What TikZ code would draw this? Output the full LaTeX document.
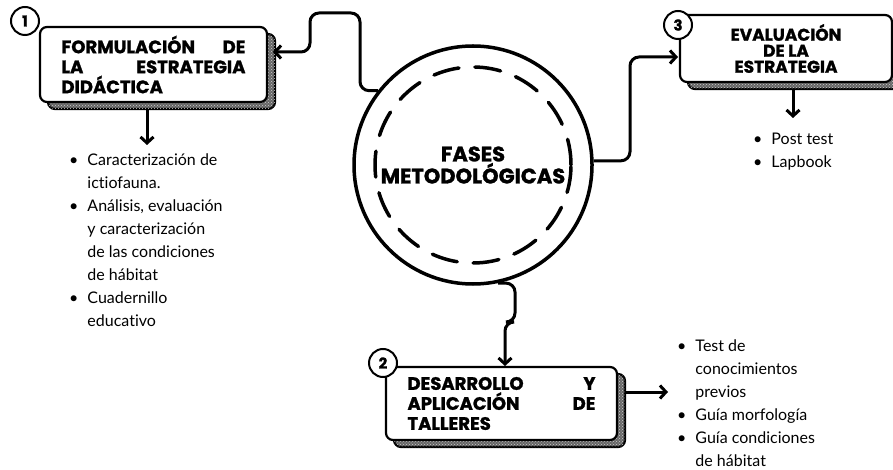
\documentclass[tikz,border=0pt]{standalone}
\usepackage{fontspec}
\setmainfont{Lato}[Ligatures=NoCommon]
\newfontfamily\headfont{Poppins}[BoldFeatures={FakeBold=1.3}]
\usetikzlibrary{arrows.meta,shadows,patterns}

\begin{document}
\begin{tikzpicture}[x=1pt,y=-1pt,
  box/.style={draw,line width=2.2pt,rounded corners=7pt,fill=white,inner sep=0pt,align=left,
    general shadow={shadow xshift=8pt,shadow yshift=-7pt,fill=black!60,draw=black,line width=2.2pt,
      postaction={pattern=crosshatch dots,pattern color=white!80!black}},
    font=\headfont\bfseries\fontsize{18}{20}\selectfont},
  numbox/.style={circle,draw,line width=2pt,fill=white,minimum size=28pt,inner sep=0pt,
    font=\headfont\bfseries\fontsize{15}{15}\selectfont},
  conn/.style={line width=3pt,rounded corners=9pt,-{Straight Barb[length=6pt,width=13pt]}},
  items/.style={anchor=north west,inner sep=0pt,font=\fontsize{16}{23}\selectfont}]
  \useasboundingbox (0,0) rectangle (893,470);
  % phases
  \node[box,minimum width=227pt,minimum height=75pt,text width=184pt] (b1) at (153.5,64.5) {FORMULACIÓN\hfill DE\\LA\hfill ESTRATEGIA\\DIDÁCTICA};
  \node[box,minimum width=231pt,minimum height=73pt,text width=188pt] (b2) at (501.5,403.5) {DESARROLLO\hfill Y\\APLICACIÓN\hfill DE\\TALLERES};
  \node[box,minimum width=212pt,minimum height=67pt,align=center,font=\headfont\bfseries\fontsize{17}{16}\selectfont] (b3) at (786,48.5) {EVALUACIÓN\\DE LA\\ESTRATEGIA};
  \node[numbox] (n1) at (25,21) {1};
  \node[numbox] (n2) at (383,363) {2};
  \node[numbox] (n3) at (678,25) {3};
  % centre
  \node[circle,draw,line width=3.5pt,minimum size=238pt,inner sep=0pt,align=center,font=\headfont\bfseries\fontsize{21}{22}\selectfont] (fm) at (473,165) {FASES\\METODOLÓGICAS};
  \draw[line width=3.5pt,line cap=round,dash pattern=on 26pt off 16pt] (fm.center) circle[radius=98pt];
  % ends of the connectors
  \coordinate (e1) at (273,52);
  \coordinate (e3) at (678,57);
  \coordinate (e2) at (505,366);
  \coordinate (s1) at (147,109);
  \coordinate (t1) at (147,145);
  \coordinate (s2) at (625,392);
  \coordinate (t2) at (668,392);
  \coordinate (s3) at (793,90);
  \coordinate (t3) at (793,118);
  \draw[conn] (fm.142) -| (360,13) -| (310,52) -- (e1);
  \draw[conn] (fm.2) -| (630,57) -- (e3);
  \draw[conn] (fm.-78) -| (515,322) -| (e2);
  \draw[conn] (s1) -- (t1);
  \draw[conn] (s2) -- (t2);
  \draw[conn] (s3) -- (t3);
  % lists
  \node[items] (l1) at (69,149) {\begin{tabular}{@{}l@{\hspace{9pt}}l@{}}•&Caracterización de\\&ictiofauna.\\•&Análisis, evaluación\\&y caracterización\\&de las condiciones\\&de hábitat\\•&Cuadernillo\\&educativo\end{tabular}};
  \node[items] (l2) at (677,335) {\begin{tabular}{@{}l@{\hspace{9pt}}l@{}}•&Test de\\&conocimientos\\&previos\\•&Guía morfología\\•&Guía condiciones\\&de hábitat\end{tabular}};
  \node[items] (l3) at (753,128) {\begin{tabular}{@{}l@{\hspace{9pt}}l@{}}•&Post test\\•&Lapbook\end{tabular}};
\end{tikzpicture}
\end{document}
